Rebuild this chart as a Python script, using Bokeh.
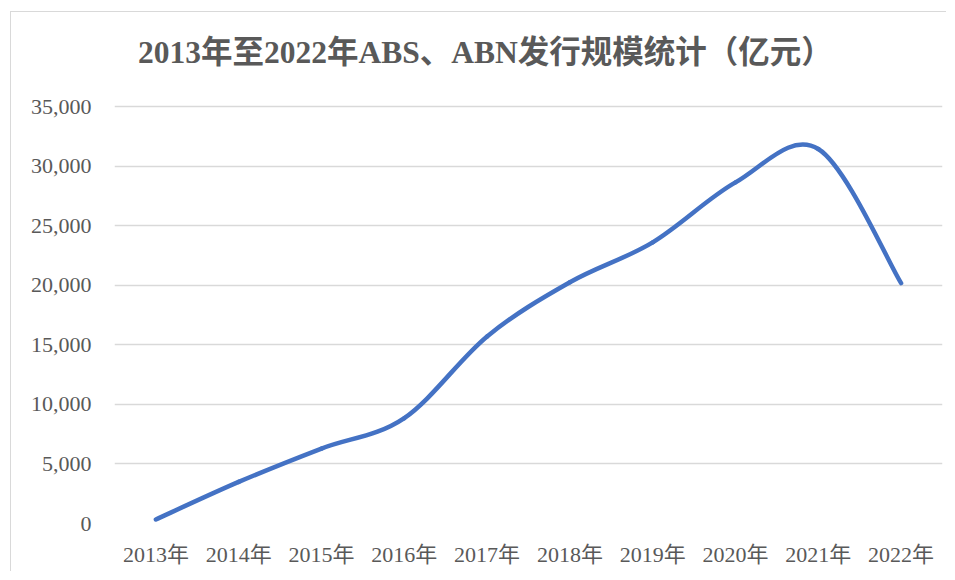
from bokeh.plotting import figure
from bokeh.models import Range1d, FixedTicker, NumeralTickFormatter, ColumnDataSource, Label
from bokeh.embed import file_html
from bokeh.resources import INLINE

# ---- data ----
years = ["2013年", "2014年", "2015年", "2016年", "2017年",
         "2018年", "2019年", "2020年", "2021年", "2022年"]
issuance = [340, 3490, 6290, 8850, 15700, 20250, 23600, 28630, 31430, 20170]
y_ticks = [0, 5000, 10000, 15000, 20000, 25000, 30000, 35000]
title_text = "2013年至2022年ABS、ABN发行规模统计（亿元）"

# category centres on a numeric axis
xs = [i + 0.5 for i in range(len(years))]

# smooth line (Catmull-Rom style cubic Bezier segments through the data points)
n = len(xs)
seg = dict(x0=[], y0=[], x1=[], y1=[], cx0=[], cy0=[], cx1=[], cy1=[])
for i in range(n - 1):
    pm = max(i - 1, 0)
    pp = min(i + 2, n - 1)
    seg["x0"].append(xs[i]); seg["y0"].append(issuance[i])
    seg["x1"].append(xs[i + 1]); seg["y1"].append(issuance[i + 1])
    seg["cx0"].append(xs[i] + (xs[i + 1] - xs[pm]) / 6)
    seg["cy0"].append(issuance[i] + (issuance[i + 1] - issuance[pm]) / 6)
    seg["cx1"].append(xs[i + 1] - (xs[pp] - xs[i]) / 6)
    seg["cy1"].append(issuance[i + 1] - (issuance[pp] - issuance[i]) / 6)
src = ColumnDataSource(seg)

LATIN_CJK = "Liberation Serif, Noto Sans CJK SC"

# layout in pixels: frame spans the title area too, ticks/grid stop at 35,000
FRAME_H = 511          # frame height in px
AXIS_TOP_PX = 417      # px from 0 to the 35,000 gridline
TITLE_PX = 471         # px from 0 to the title centre
y_top = y_ticks[-1] * FRAME_H / AXIS_TOP_PX
title_y = y_top * TITLE_PX / FRAME_H

p = figure(width=936, height=560, output_backend="svg", toolbar_location=None,
           x_range=Range1d(0, len(years)), y_range=Range1d(0, y_top),
           min_border_left=103, min_border_right=5, min_border_top=0,
           min_border_bottom=49)
p.title.visible = False

p.bezier(x0="x0", y0="y0", x1="x1", y1="y1", cx0="cx0", cy0="cy0",
         cx1="cx1", cy1="cy1", source=src, line_color="#4472C4",
         line_width=4.5, line_cap="round")

# chart title
title = Label(x=4.48, y=title_y, text=title_text,
              text_align="center", text_baseline="middle",
              text_font=LATIN_CJK, text_font_size="31.5px",
              text_font_style="bold", text_color="#595959")
p.add_layout(title)

# axes
p.xaxis.ticker = FixedTicker(ticks=xs)
p.xaxis.major_label_overrides = {x: y for x, y in zip(xs, years)}
p.yaxis.ticker = FixedTicker(ticks=y_ticks)
p.yaxis.formatter = NumeralTickFormatter(format="0,0")
for ax in (p.xaxis, p.yaxis):
    ax.axis_line_color = None
    ax.major_tick_line_color = None
    ax.minor_tick_line_color = None
    ax.major_label_text_font = LATIN_CJK
    ax.major_label_text_font_size = "22px"
    ax.major_label_text_color = "#595959"
p.yaxis.major_label_standoff = 17
p.xaxis.major_label_standoff = 12

p.xgrid.grid_line_color = None
p.ygrid.grid_line_color = "#d9d9d9"
p.ygrid.grid_line_width = 1.5
p.outline_line_color = None
p.styles = {"margin-left": "10px", "margin-top": "11px",
            "border-left": "1px solid #d9d9d9", "border-top": "1px solid #d9d9d9"}

open("out.html", "w").write(file_html(p, INLINE))
